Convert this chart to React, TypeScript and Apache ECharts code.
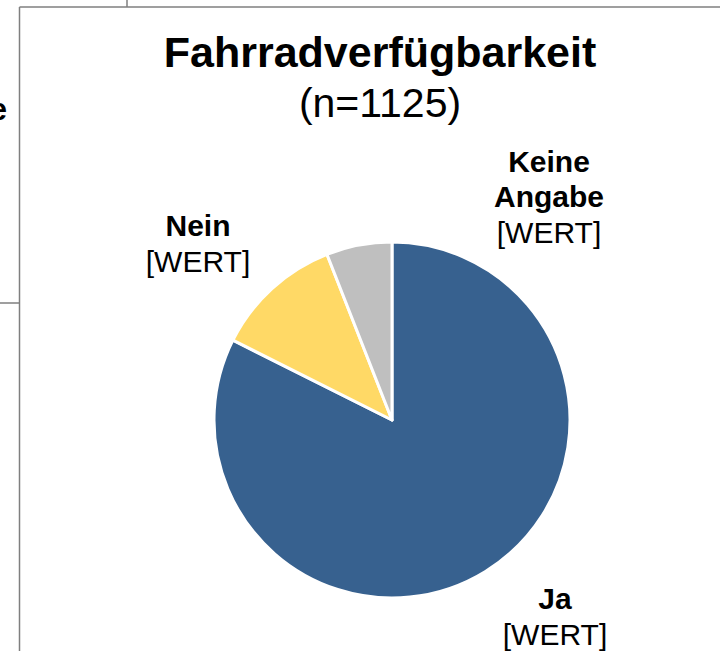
import React, { useEffect, useRef } from "react";
import * as echarts from "echarts";

const titleText = "Fahrradverfügbarkeit";
const subtitleText = "(n=1125)";
const categories = ["Ja", "Nein", "Keine Angabe"];
const counts = [927, 131, 67];
const valueLabels = ["[WERT]", "[WERT]", "[WERT]"];
const colors = ["#37618f", "#ffd966", "#bfbfbf"];

const FONT = "'Liberation Sans', Arial, sans-serif";

export default function App() {
  const ref = useRef<HTMLDivElement>(null);
  useEffect(() => {
    if (!ref.current) return;
    const chart = echarts.init(ref.current, null, { renderer: "svg" });
    const labelPos: Record<number, [number, number]> = {
      0: [555, 617],
      1: [198, 244],
      2: [549, 197],
    };
    chart.setOption({
      animation: false,
      backgroundColor: "#ffffff",
      title: {
        text: titleText,
        subtext: subtitleText,
        left: 380,
        textAlign: "center",
        top: 27,
        padding: 0,
        itemGap: 1,
        textStyle: {
          fontFamily: FONT,
          fontSize: 43,
          fontWeight: "bold",
          color: "#000",
          lineHeight: 50,
        },
        subtextStyle: {
          fontFamily: FONT,
          fontSize: 41,
          color: "#000",
          lineHeight: 50,
        },
      },
      graphic: [
        { type: "line", shape: { x1: 19.5, y1: 7, x2: 720, y2: 7 }, style: { stroke: "#7f7f7f", lineWidth: 1.5 } },
        { type: "line", shape: { x1: 19.5, y1: 7, x2: 19.5, y2: 651 }, style: { stroke: "#7f7f7f", lineWidth: 1.5 } },
        { type: "line", shape: { x1: 127, y1: 0, x2: 127, y2: 7 }, style: { stroke: "#7f7f7f", lineWidth: 1.5 } },
        { type: "line", shape: { x1: 0, y1: 303, x2: 19.5, y2: 303 }, style: { stroke: "#7f7f7f", lineWidth: 1.5 } },
        {
          type: "text",
          x: 7,
          y: 109,
          style: {
            text: "e",
            font: "bold 31px " + FONT,
            fill: "#000",
            align: "right",
            verticalAlign: "middle",
          },
        },
      ],
      series: [
        {
          type: "pie",
          center: [392, 420],
          radius: [0, 178],
          startAngle: 90,
          clockwise: true,
          label: {
            show: true,
            position: "outside",
            formatter: (p: any) =>
              "{n|" + String(p.name).split(" ").join("}\n{n|") + "}\n{v|" + valueLabels[p.dataIndex] + "}",
            rich: {
              n: { fontFamily: FONT, fontSize: 30, fontWeight: "bold", color: "#000", lineHeight: 35, align: "center" },
              v: { fontFamily: FONT, fontSize: 30, color: "#000", lineHeight: 37, align: "center" },
            },
          },
          labelLine: { show: false },
          labelLayout: (params: any) => {
            const p = labelPos[params.dataIndex];
            return { x: p[0], y: p[1], align: "center", verticalAlign: "middle" };
          },
          itemStyle: { borderColor: "#ffffff", borderWidth: 3 },
          emphasis: { disabled: true },
          data: categories.map((c, i) => ({ name: c, value: counts[i], itemStyle: { color: colors[i] } })),
        },
      ],
    });
    return () => chart.dispose();
  }, []);
  return (
    <div
      ref={ref}
      style={{ position: "fixed", left: 0, top: 0, width: 720, height: 651 }}
    />
  );
}
